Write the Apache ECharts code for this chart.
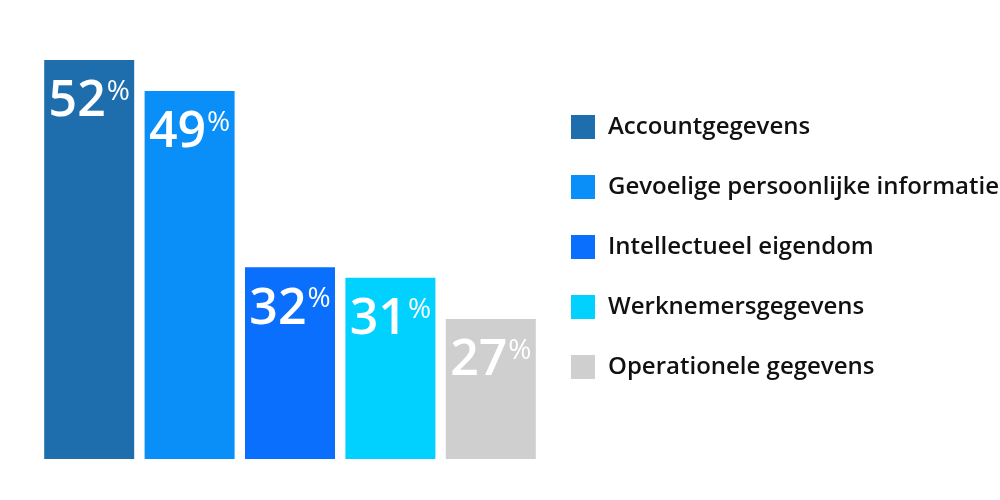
<!DOCTYPE html>
<html>
<head>
<meta charset="utf-8">
<script src="https://cdn.jsdelivr.net/npm/echarts@6/dist/echarts.min.js"></script>
<style>html,body{margin:0;padding:0;background:#fff}#c{width:1000px;height:500px}</style>
</head>
<body>
<div id="c"></div>
<script>
const categories = ['Accountgegevens', 'Gevoelige persoonlijke informatie', 'Intellectueel eigendom', 'Werknemersgegevens', 'Operationele gegevens'];
const values = [52, 49, 32, 31, 27];
const colors = ['#1e6eae', '#0a8ff8', '#0a6ffd', '#00d1fe', '#d0cfd0'];

const chart = echarts.init(document.getElementById('c'));
const series = categories.map((name, i) => ({
  name: name,
  type: 'bar',
  stack: 'all',
  barWidth: 90,
  itemStyle: { color: colors[i] },
  data: values.map((v, j) => (j === i ? v : '-')),
  label: {
    show: true,
    position: 'insideTop',
    distance: 15,
    formatter: p => '{a|' + p.value + '}{b|%}',
    rich: {
      a: { fontFamily: 'Open Sans', fontWeight: 600, fontSize: 50, color: '#fff', lineHeight: 54 },
      b: { fontFamily: 'Open Sans', fontWeight: 400, fontSize: 28, color: '#fff', lineHeight: 28, verticalAlign: 'top', padding: [3, 0, 0, 1] }
    }
  }
}));

chart.setOption({
  animation: false,
  grid: { left: 39, right: 459, top: 60, bottom: 41 },
  legend: {
    orient: 'vertical',
    left: 566,
    top: 110,
    icon: 'rect',
    itemWidth: 24,
    itemHeight: 24,
    itemGap: 36,
    textStyle: { fontFamily: 'Open Sans', fontWeight: 600, fontSize: 24, color: '#111', lineHeight: 24, padding: [0, 0, 0, 8] },
    itemStyle: { borderWidth: 0 },
    data: categories
  },
  xAxis: {
    type: 'category',
    data: categories,
    axisLine: { show: false },
    axisTick: { show: false },
    axisLabel: { show: false }
  },
  yAxis: {
    type: 'value',
    min: 13.5,
    max: 52,
    show: false,
    splitLine: { show: false }
  },
  series: series
});
</script>
</body>
</html>
